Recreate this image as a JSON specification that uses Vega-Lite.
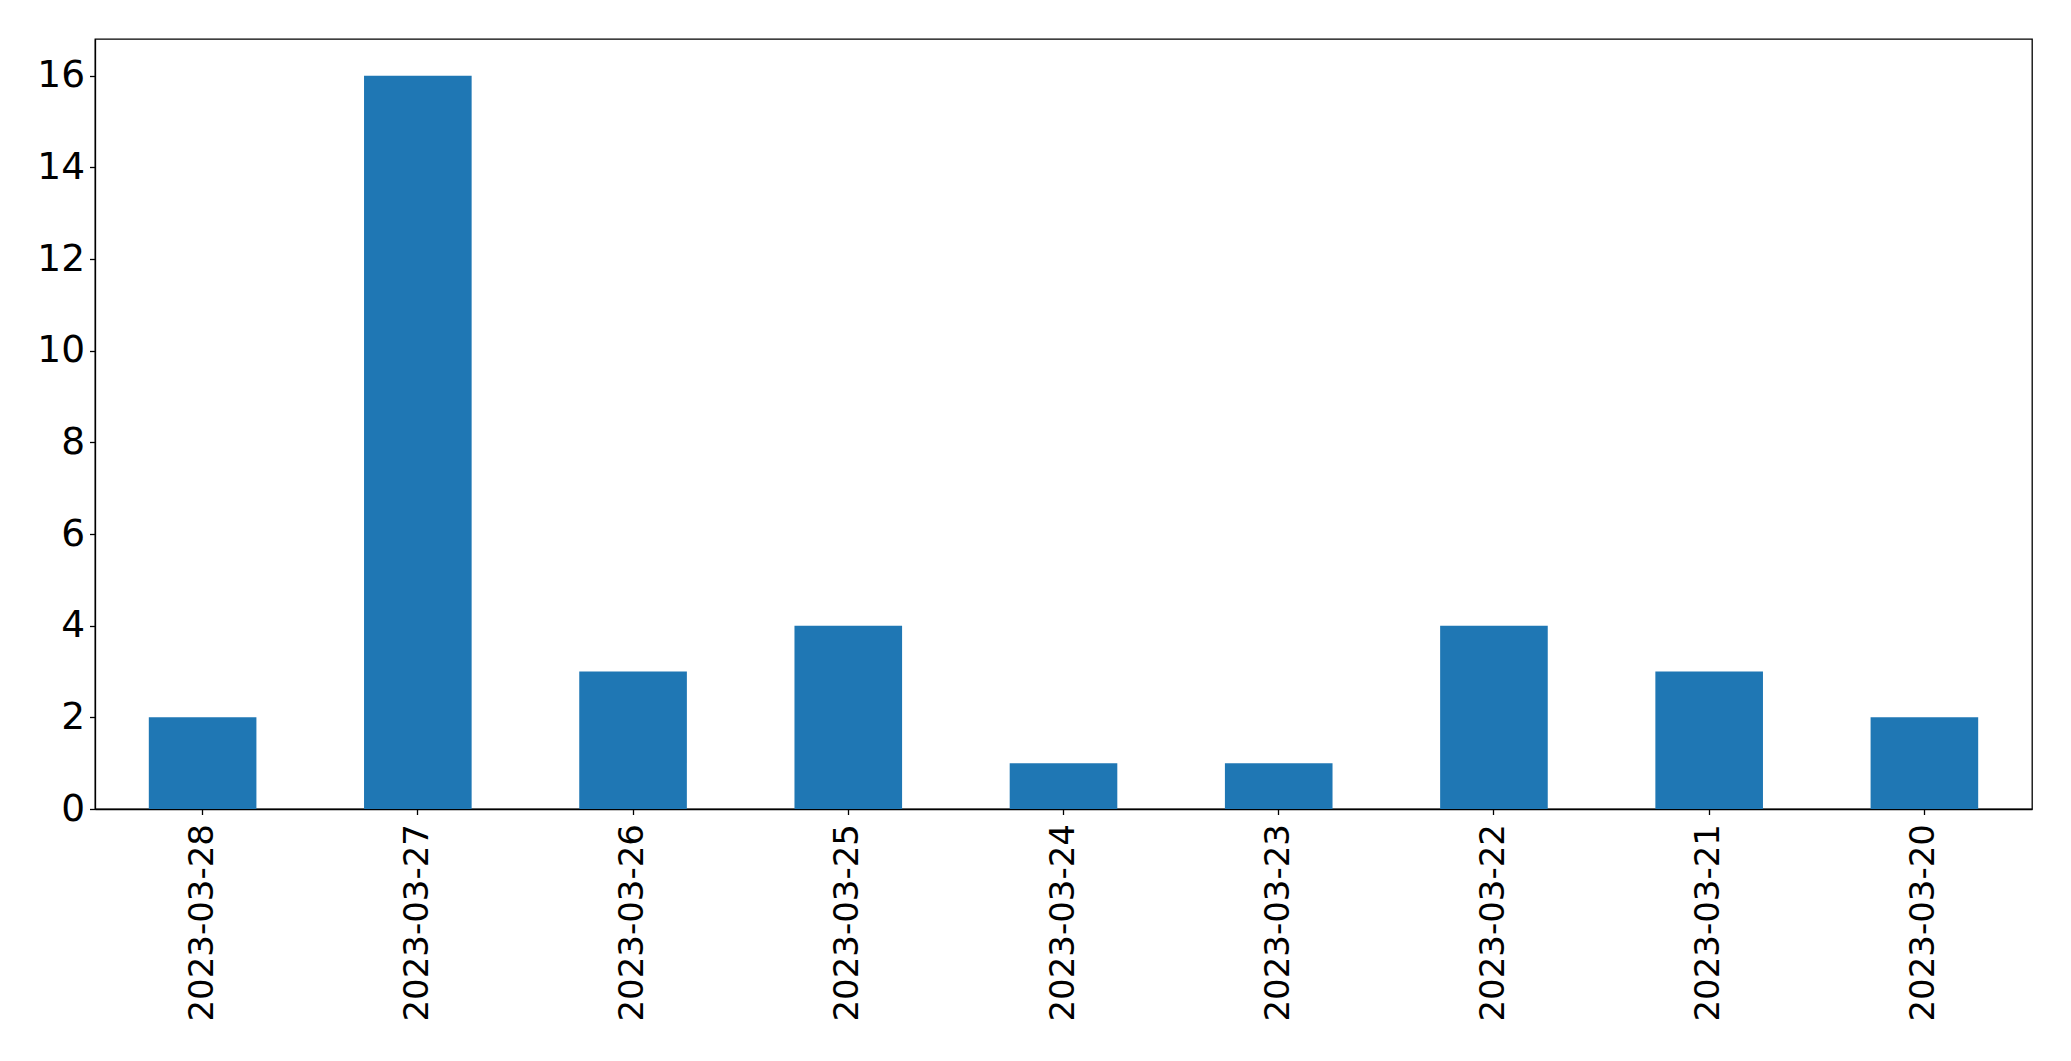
{
  "$schema": "https://vega.github.io/schema/vega-lite/v6.json",
  "width": 1937,
  "height": 770,
  "autosize": {"type": "none"},
  "padding": {"left": 95, "top": 39, "right": 39, "bottom": 252},
  "background": "white",
  "config": {
    "view": {"stroke": "black", "strokeWidth": 1.3},
    "font": "DejaVu Sans",
    "axis": {
      "domainColor": "black",
      "domainWidth": 1.3,
      "tickColor": "black",
      "tickWidth": 1.3,
      "tickSize": 5.5,
      "labelColor": "black",
      "labelFont": "DejaVu Sans",
      "labelFontSize": 34,
      "labelLimit": 0,
      "grid": false,
      "title": null
    }
  },
  "data": {
    "values": [
      {"date": "2023-03-28", "count": 2},
      {"date": "2023-03-27", "count": 16},
      {"date": "2023-03-26", "count": 3},
      {"date": "2023-03-25", "count": 4},
      {"date": "2023-03-24", "count": 1},
      {"date": "2023-03-23", "count": 1},
      {"date": "2023-03-22", "count": 4},
      {"date": "2023-03-21", "count": 3},
      {"date": "2023-03-20", "count": 2}
    ]
  },
  "mark": {"type": "bar", "color": "#1f77b4"},
  "encoding": {
    "x": {
      "field": "date",
      "type": "nominal",
      "sort": null,
      "scale": {"paddingInner": 0.5, "paddingOuter": 0.25},
      "axis": {"labelAngle": -90, "labelPadding": 9, "labelOverlap": false, "labelLimit": 0}
    },
    "y": {
      "field": "count",
      "type": "quantitative",
      "scale": {"domain": [0, 16.8], "nice": false, "zero": true},
      "axis": {"values": [0, 2, 4, 6, 8, 10, 12, 14, 16], "labelPadding": 5, "labelFontSize": 37.5}
    }
  }
}
